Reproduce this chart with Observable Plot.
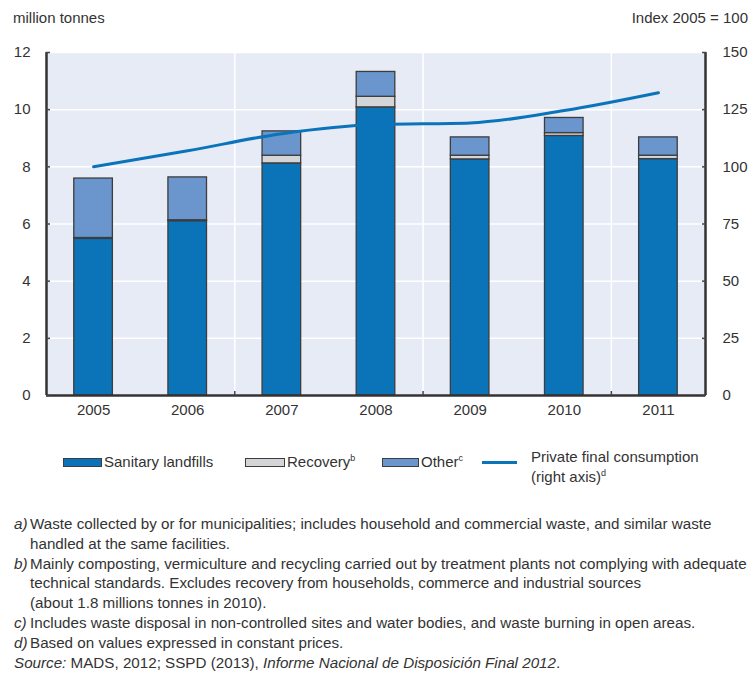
<!DOCTYPE html>
<html><head><meta charset="utf-8">
<script src="https://cdn.jsdelivr.net/npm/d3@7"></script>
<script src="https://cdn.jsdelivr.net/npm/@observablehq/plot@0.6"></script>
<style>
body{margin:0;background:#fff;}
#wrap{position:relative;width:751px;height:674px;overflow:hidden;font-family:"Liberation Sans Narrow","Arial Narrow","Liberation Sans",Arial,sans-serif;color:#333;}
#chart{position:absolute;left:0;top:0;}
.unit{position:absolute;top:9px;font-size:15px;white-space:nowrap;}
.leg{position:absolute;font-size:15px;white-space:nowrap;}
.sw{position:absolute;height:7px;border:1px solid #3d3d3d;}
sup{font-size:9px;vertical-align:6px;line-height:0;}
#notes{position:absolute;left:14px;top:514px;font-size:15.2px;line-height:19.8px;}
#notes div{white-space:nowrap;}
.lab{display:inline-block;width:16px;font-style:italic;}
.cont{padding-left:16px;}
</style></head><body>
<div id="wrap">
  <div id="chart"></div>
  <div class="unit" style="left:13px;">million tonnes</div>
  <div class="unit" style="right:3px;">Index 2005 = 100</div>
  <div id="legend"></div>
  <div id="notes">
    <div><span class="lab">a)</span>Waste collected by or for municipalities; includes household and commercial waste, and similar waste</div>
    <div class="cont">handled at the same facilities.</div>
    <div><span class="lab">b)</span>Mainly composting, vermiculture and recycling carried out by treatment plants not complying with adequate</div>
    <div class="cont">technical standards. Excludes recovery from households, commerce and industrial sources</div>
    <div class="cont">(about 1.8 millions tonnes in 2010).</div>
    <div><span class="lab">c)</span>Includes waste disposal in non-controlled sites and water bodies, and waste burning in open areas.</div>
    <div><span class="lab">d)</span>Based on values expressed in constant prices.</div>
    <div><i>Source:</i> MADS, 2012; SSPD (2013), <i>Informe Nacional de Disposición Final 2012</i>.</div>
  </div>
</div>
<script>
const years = [2005, 2006, 2007, 2008, 2009, 2010, 2011];
const sanitaryLandfills = [5.48, 6.10, 8.12, 10.08, 8.26, 9.08, 8.27];
const recovery = [0.03, 0.03, 0.27, 0.37, 0.13, 0.10, 0.12];
const other = [2.08, 1.50, 0.85, 0.87, 0.64, 0.53, 0.64];
const privateConsumption = [100, 107, 114.5, 118.5, 119.2, 124.6, 132.4];
const leftTicks = [0, 2, 4, 6, 8, 10, 12];
const rightTicks = [0, 25, 50, 75, 100, 125, 150];
const seriesNames = ["Sanitary landfills", "Recovery", "Other"];
const seriesColors = ["#0b73b8", "#d4d5d7", "#6b95cd"];
const lineName = "Private final consumption";
const lineColor = "#0a74ba";

const seriesValues = [sanitaryLandfills, recovery, other];
const k = leftTicks[leftTicks.length - 1] / rightTicks[rightTicks.length - 1];
const xDomain = [years[0] - 0.5, years[years.length - 1] + 0.5];
const xGrid = years.filter((y, i) => i % 2 === 1 && i < years.length - 1).map(y => y + 0.5);

const rows = years.flatMap((yr, i) => {
  let acc = 0;
  return seriesNames.map((s, j) => {
    const v = seriesValues[j][i];
    const r = {year: yr, series: s, y1: acc, y2: acc + v};
    acc += v;
    return r;
  });
});
const lineData = years.map((yr, i) => ({year: yr, v: privateConsumption[i] * k}));

const half = 0.205;
const plot = Plot.plot({
  width: 751,
  height: 430,
  marginLeft: 46,
  marginRight: 46,
  marginTop: 52,
  marginBottom: 35,
  style: {fontFamily: '"Liberation Sans Narrow","Arial Narrow","Liberation Sans",Arial,sans-serif', fontSize: "15px", color: "#333", background: "transparent"},
  x: {domain: xDomain, axis: null},
  y: {domain: [leftTicks[0], leftTicks[leftTicks.length - 1]], axis: null},
  color: {domain: seriesNames, range: seriesColors},
  marks: [
    Plot.frame({fill: "#e7ebf6", stroke: null}),
    Plot.gridY(leftTicks, {stroke: "#ffffff", strokeOpacity: 1, strokeWidth: 1.5}),
    Plot.gridX(xGrid, {stroke: "#ffffff", strokeOpacity: 1, strokeWidth: 1.5}),
    Plot.rectY(rows, {x1: d => d.year - half, x2: d => d.year + half, y1: "y1", y2: "y2", fill: "series", stroke: "#3d3d3d", strokeWidth: 1.3}),
    Plot.line(lineData, {x: "year", y: "v", stroke: lineColor, strokeWidth: 3, curve: "monotone-x"}),
    Plot.ruleX(xDomain, {stroke: "#333", strokeWidth: 2.5}),
    Plot.ruleY([leftTicks[0]], {stroke: "#333", strokeWidth: 2.5}),
    Plot.axisY(leftTicks, {anchor: "left", label: null, tickSize: -4, tickPadding: 20, stroke: "#444", strokeWidth: 1.5}),
    Plot.axisY(rightTicks.map(v => v * k), {anchor: "right", label: null, tickSize: -4, tickPadding: 21, stroke: "#444", strokeWidth: 1.5, tickFormat: d => String(Math.round(d / k))}),
    Plot.axisX(years, {anchor: "bottom", label: null, tickSize: 0, tickPadding: 9, tickFormat: d => String(d)}),
    Plot.axisX(xGrid, {anchor: "bottom", label: null, tickSize: -4, tickFormat: () => "", stroke: "#444", strokeWidth: 1.5})
  ]
});
document.getElementById("chart").appendChild(plot);

// legend
const legend = document.getElementById("legend");
const legItems = [
  {sw: 63, tx: 104, label: seriesNames[0], sup: ""},
  {sw: 245, tx: 287, label: seriesNames[1], sup: "b"},
  {sw: 382, tx: 421, label: seriesNames[2], sup: "c"}
];
legItems.forEach((it, i) => {
  const s = document.createElement("div");
  s.className = "sw";
  s.style.left = it.sw + "px";
  s.style.top = "458px";
  s.style.width = (it.tx - it.sw - 4) + "px";
  s.style.background = seriesColors[i];
  legend.appendChild(s);
  const t = document.createElement("div");
  t.className = "leg";
  t.style.left = it.tx + "px";
  t.style.top = "453px";
  t.innerHTML = it.label + (it.sup ? "<sup>" + it.sup + "</sup>" : "");
  legend.appendChild(t);
});
const ln = document.createElement("div");
ln.style.cssText = "position:absolute;left:482px;top:461px;width:35px;height:3px;background:" + lineColor;
legend.appendChild(ln);
const lt = document.createElement("div");
lt.className = "leg";
lt.style.left = "531px";
lt.style.top = "447px";
lt.style.lineHeight = "20px";
lt.innerHTML = lineName + "<br>(right axis)<sup>d</sup>";
legend.appendChild(lt);
</script>
</body></html>
